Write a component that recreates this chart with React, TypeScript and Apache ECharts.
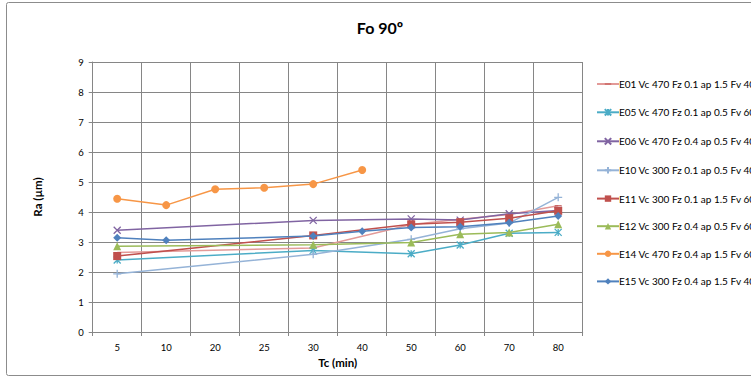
import React, { useEffect, useRef } from "react";
import * as echarts from "echarts";

const categories = ["5", "10", "20", "25", "30", "40", "50", "60", "70", "80"];
const seriesNames = [
  "E01 Vc 470 Fz 0.1 ap 1.5 Fv 40%",
  "E05 Vc 470 Fz 0.1 ap 0.5 Fv 60%",
  "E06 Vc 470 Fz 0.4 ap 0.5 Fv 40%",
  "E10 Vc 300 Fz 0.1 ap 0.5 Fv 40%",
  "E11 Vc 300 Fz 0.1 ap 1.5 Fv 60%",
  "E12 Vc 300 Fz 0.4 ap 0.5 Fv 60%",
  "E14 Vc 470 Fz 0.4 ap 1.5 Fv 60%",
  "E15 Vc 300 Fz 0.4 ap 1.5 Fv 40%",
];
const e01 = [2.65, null, null, null, 2.8, null, 3.58, 3.76, 3.92, 4.21];
const e05 = [2.4, null, null, null, 2.72, null, 2.61, 2.9, 3.29, 3.32];
const e06 = [3.39, null, null, null, 3.72, null, 3.77, 3.73, 3.94, 4.05];
const e10 = [1.94, null, null, null, 2.59, null, 3.09, 3.44, 3.63, 4.49];
const e11 = [2.53, null, null, null, 3.22, null, 3.59, 3.66, 3.79, 4.04];
const e12 = [2.86, null, null, null, 2.91, null, 2.98, 3.26, 3.32, 3.59];
const e14 = [4.44, 4.23, 4.76, 4.81, 4.93, 5.4, null, null, null, null];
const e15 = [3.14, 3.06, null, null, 3.2, 3.36, 3.48, 3.51, 3.64, 3.87];

const seriesData = [e01, e05, e06, e10, e11, e12, e14, e15];
const colors = ["#E39A98", "#4BACC6", "#8064A2", "#95B3D7", "#C0504D", "#9BBB59", "#F79646", "#4F81BD"];

const FONT = "Lato, 'Liberation Sans', Arial, sans-serif";

export default function App() {
  const ref = useRef<HTMLDivElement>(null);
  useEffect(() => {
    document.body.style.margin = "0";
    if (!ref.current) return;
    const chart = echarts.init(ref.current, undefined, { renderer: "svg" });

    const symbolDefs: any[] = [
      { symbol: "path://M0,0L0.01,0M10,10L9.99,10M0,4.2L10,4.2L10,5.8L0,5.8Z", symbolSize: 7, stroke: false },
      { symbol: "path://M0,0L10,10M10,0L0,10M5,0L5,10", symbolSize: 7, stroke: true },
      { symbol: "path://M0,0L10,10M10,0L0,10", symbolSize: 7, stroke: true },
      { symbol: "path://M5,0L5,10M0,5L10,5", symbolSize: 8, stroke: true },
      { symbol: "rect", symbolSize: 8, stroke: false },
      { symbol: "triangle", symbolSize: 8, stroke: false },
      { symbol: "circle", symbolSize: 8, stroke: false },
      { symbol: "diamond", symbolSize: 8, stroke: false },
    ];

    const series = seriesNames.map((name, i) => {
      const d = symbolDefs[i];
      return {
        name,
        type: "line",
        data: seriesData[i],
        connectNulls: true,
        symbol: d.symbol,
        symbolSize: d.symbolSize,
        showSymbol: true,
        lineStyle: { color: colors[i], width: 1.5 },
        itemStyle: d.stroke
          ? { color: "none", borderColor: colors[i], borderWidth: 1.3 }
          : { color: i === 0 ? "#C0504D" : colors[i], borderColor: colors[i], borderWidth: 0 },
        emphasis: { disabled: true },
        z: 2 + i,
      };
    });

    chart.setOption({
      animation: false,
      backgroundColor: "#ffffff",
      color: colors,
      title: {
        text: "Fo 90º",
        left: 375,
        textAlign: "center",
        top: 14,
        textStyle: { fontFamily: FONT, fontSize: 16, fontWeight: "bold", color: "#000" },
      },
      graphic: [
        {
          type: "rect",
          shape: { x: 6.5, y: 2.5, width: 760, height: 373, r: 2 },
          style: { fill: "none", stroke: "#8c8c8c", lineWidth: 1 },
          silent: true,
        },
      ],
      legend: {
        orient: "vertical",
        left: 591,
        top: 74,
        itemWidth: 22,
        itemHeight: 8,
        itemGap: 17.6,
        textStyle: { fontFamily: FONT, fontSize: 10, color: "#000", padding: [0, 0, 0, -5] },
        data: seriesNames,
      },
      grid: { left: 92.7, top: 62, right: 168.3, bottom: 46, containLabel: false },
      xAxis: {
        type: "category",
        data: categories,
        boundaryGap: true,
        name: "Tc (min)",
        nameLocation: "middle",
        nameGap: 24,
        nameTextStyle: { fontFamily: FONT, fontSize: 11.5, fontWeight: "bold", color: "#000" },
        axisLine: { lineStyle: { color: "#868686", width: 1 } },
        axisTick: { show: true, interval: 0, length: 4, lineStyle: { color: "#868686" } },
        axisLabel: { interval: 0, fontFamily: FONT, fontSize: 9.5, color: "#000", margin: 10 },
        splitLine: { show: true, interval: 0, lineStyle: { color: "#868686", width: 1 } },
      },
      yAxis: {
        type: "value",
        min: 0,
        max: 9,
        interval: 1,
        name: "Ra (µm)",
        nameLocation: "middle",
        nameGap: 49,
        nameRotate: 90,
        nameTextStyle: { fontFamily: FONT, fontSize: 11.5, fontWeight: "bold", color: "#000" },
        axisLine: { show: true, lineStyle: { color: "#868686", width: 1 } },
        axisTick: { show: true, length: 4, lineStyle: { color: "#868686" } },
        axisLabel: { fontFamily: FONT, fontSize: 9.5, color: "#000", margin: 9 },
        splitLine: { show: true, lineStyle: { color: "#868686", width: 1 } },
      },
      series,
    });
    return () => chart.dispose();
  }, []);
  return <div ref={ref} style={{ width: 751, height: 378 }} />;
}
